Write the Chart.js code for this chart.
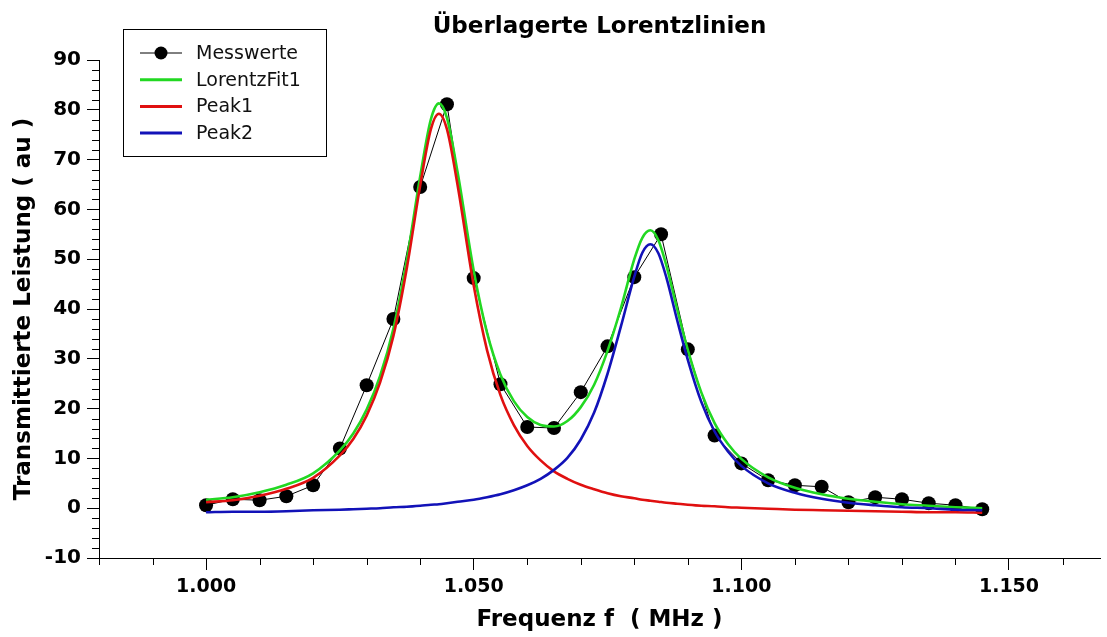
<!DOCTYPE html>
<html lang="de">
<head>
<meta charset="utf-8">
<title>Überlagerte Lorentzlinien</title>
<script src="https://cdn.jsdelivr.net/npm/chart.js@4.4.1/dist/chart.umd.min.js"></script>
<style>
  html, body { margin: 0; padding: 0; background: #fff; }
  #wrap { position: relative; width: 1107px; height: 637px; }
</style>
</head>
<body>
<div id="wrap"><canvas id="chart"></canvas></div>
<script>
// Messpunkte: Frequenz (MHz) und transmittierte Leistung (au)
const messFreq = [1.000, 1.005, 1.010, 1.015, 1.020, 1.025, 1.030, 1.035, 1.040, 1.045,
                  1.050, 1.055, 1.060, 1.065, 1.070, 1.075, 1.080, 1.085, 1.090, 1.095,
                  1.100, 1.105, 1.110, 1.115, 1.120, 1.125, 1.130, 1.135, 1.140, 1.145];
const messWerte = [0.6, 1.8, 1.6, 2.4, 4.6, 12.0, 24.7, 38.0, 64.5, 81.1,
                   46.2, 24.9, 16.3, 16.1, 23.3, 32.5, 46.4, 55.0, 31.9, 14.6,
                   9.0, 5.6, 4.6, 4.3, 1.2, 2.2, 1.8, 1.0, 0.6, -0.2];

// Stuetzstellen der Fitkurven
const fitFreq = [1.000, 1.005, 1.010, 1.015, 1.020, 1.025, 1.0275, 1.030, 1.0325, 1.035,
                 1.0375, 1.040, 1.042, 1.0435, 1.045, 1.047, 1.050, 1.0525, 1.055, 1.0575,
                 1.060, 1.0625, 1.065, 1.0675, 1.070, 1.0725, 1.075, 1.0775, 1.080, 1.0815,
                 1.083, 1.0845, 1.086, 1.088, 1.090, 1.0925, 1.095, 1.0975, 1.100, 1.105,
                 1.110, 1.115, 1.120, 1.125, 1.130, 1.135, 1.140, 1.145];
const lorentzFit = [1.7, 2.2, 3.2, 4.7, 7.0, 11.6, 15.0, 19.8, 26.5, 36.1,
                    49.8, 66.6, 78.1, 81.3, 78.4, 67.4, 47.7, 35.2, 26.8, 21.5,
                    18.3, 16.7, 16.4, 17.5, 20.3, 24.8, 31.6, 40.2, 50.0, 54.3,
                    55.8, 53.8, 48.7, 40.0, 31.8, 23.3, 17.1, 12.9, 9.9, 6.2,
                    4.1, 2.8, 1.9, 1.3, 0.8, 0.5, 0.2, 0.0];
const peak1 = [1.2, 1.6, 2.5, 3.9, 6.1, 10.6, 13.9, 18.6, 25.2, 34.6,
               48.2, 64.8, 76.1, 79.2, 76.1, 64.8, 44.7, 31.7, 22.7, 16.7,
               12.5, 9.6, 7.4, 5.9, 4.7, 3.8, 3.0, 2.4, 2.0, 1.7,
               1.5, 1.3, 1.1, 0.9, 0.7, 0.5, 0.4, 0.2, 0.1, -0.1,
               -0.3, -0.4, -0.5, -0.6, -0.7, -0.8, -0.8, -0.9];
const peak2 = [-0.8, -0.7, -0.7, -0.6, -0.4, -0.3, -0.2, -0.1, 0.0, 0.2,
               0.3, 0.5, 0.7, 0.8, 1.0, 1.3, 1.7, 2.2, 2.8, 3.6,
               4.6, 5.9, 7.7, 10.1, 13.8, 19.2, 27.0, 36.5, 46.5, 51.3,
               53.0, 51.2, 46.3, 37.8, 29.8, 21.4, 15.4, 11.4, 8.5, 5.0,
               3.1, 1.9, 1.1, 0.6, 0.2, 0.0, -0.3, -0.4];

// Achsenteilung
const xMajor = [1.00, 1.05, 1.10, 1.15];
const xMinor = [0.98, 0.99, 1.01, 1.02, 1.03, 1.04, 1.06, 1.07, 1.08, 1.09,
                1.11, 1.12, 1.13, 1.14, 1.16];
const yMajor = [-10, 0, 10, 20, 30, 40, 50, 60, 70, 80, 90];
const yMinor = [-8, -6, -4, -2, 2, 4, 6, 8, 12, 14, 16, 18, 22, 24, 26, 28,
                32, 34, 36, 38, 42, 44, 46, 48, 52, 54, 56, 58, 62, 64, 66, 68,
                72, 74, 76, 78, 82, 84, 86, 88];

const FONT = "'DejaVu Sans', Verdana, sans-serif";
const pts = (xs, ys) => xs.map((x, i) => ({ x: x, y: ys[i] }));

// kurze Zwischenstriche an beiden Achsen
const minorTicks = {
  id: 'minorTicks',
  afterDraw(chart) {
    const { ctx, scales: { x, y } } = chart;
    ctx.save();
    ctx.strokeStyle = '#000';
    ctx.lineWidth = 1;
    ctx.beginPath();
    yMinor.forEach(v => {
      const py = Math.round(y.getPixelForValue(v)) + 0.5;
      ctx.moveTo(y.right - 7, py);
      ctx.lineTo(y.right, py);
    });
    xMinor.forEach(v => {
      const px = Math.round(x.getPixelForValue(v)) + 0.5;
      ctx.moveTo(px, x.top);
      ctx.lineTo(px, x.top + 7);
    });
    ctx.stroke();
    ctx.restore();
  }
};

// Legende im Diagramm oben links, mit Rahmen
const legendBox = {
  id: 'legendBox',
  afterDraw(chart) {
    const ctx = chart.ctx;
    const left = chart.chartArea.left + 24, top = 29, w = 203, h = 127;
    ctx.save();
    ctx.fillStyle = '#fff';
    ctx.fillRect(left, top, w, h);
    ctx.strokeStyle = '#000';
    ctx.lineWidth = 1;
    ctx.strokeRect(left + 0.5, top + 0.5, w, h);
    ctx.font = '19px ' + FONT;
    ctx.textBaseline = 'middle';
    chart.data.datasets.forEach((ds, i) => {
      const cy = top + 24 + i * 26.7;
      ctx.strokeStyle = ds.borderColor;
      ctx.lineWidth = ds.pointRadius > 0 ? 1 : 3;
      ctx.beginPath();
      ctx.moveTo(left + 17, cy);
      ctx.lineTo(left + 59, cy);
      ctx.stroke();
      if (ds.pointRadius > 0) {
        ctx.fillStyle = ds.pointBackgroundColor;
        ctx.beginPath();
        ctx.arc(left + 38, cy, 6.5, 0, Math.PI * 2);
        ctx.fill();
      }
      ctx.fillStyle = '#111';
      ctx.fillText(ds.label, left + 73, cy + 1);
    });
    ctx.restore();
  }
};

new Chart(document.getElementById('chart'), {
  type: 'scatter',
  data: {
    datasets: [
      {
        label: 'Messwerte',
        data: pts(messFreq, messWerte),
        showLine: true,
        borderColor: '#000',
        borderWidth: 1,
        pointRadius: 7,
        pointBackgroundColor: '#000',
        pointBorderColor: '#000',
        pointBorderWidth: 0,
        tension: 0,
        order: 4
      },
      {
        label: 'LorentzFit1',
        data: pts(fitFreq, lorentzFit),
        showLine: true,
        borderColor: '#22d822',
        borderWidth: 2.6,
        pointRadius: 0,
        cubicInterpolationMode: 'monotone',
        order: 3
      },
      {
        label: 'Peak1',
        data: pts(fitFreq, peak1),
        showLine: true,
        borderColor: '#e01010',
        borderWidth: 2.6,
        pointRadius: 0,
        cubicInterpolationMode: 'monotone',
        order: 2
      },
      {
        label: 'Peak2',
        data: pts(fitFreq, peak2),
        showLine: true,
        borderColor: '#1212b8',
        borderWidth: 2.6,
        pointRadius: 0,
        cubicInterpolationMode: 'monotone',
        order: 1
      }
    ]
  },
  options: {
    responsive: true,
    maintainAspectRatio: false,
    animation: false,
    layout: { padding: { left: 0, right: 0, top: 0, bottom: 0 } },
    plugins: {
      legend: { display: false },
      tooltip: { enabled: false },
      title: {
        display: true,
        text: 'Überlagerte Lorentzlinien',
        color: '#000',
        fullSize: false,
        font: { family: FONT, size: 23, weight: 'bold' },
        padding: { top: 13, bottom: 19.4 }
      }
    },
    scales: {
      x: {
        type: 'linear',
        min: 0.98,
        max: 1.167,
        afterBuildTicks: s => { s.ticks = xMajor.map(v => ({ value: v })); },
        afterFit: s => { s.height = 79; },
        border: { display: true, color: '#000', width: 1 },
        grid: { display: true, drawOnChartArea: false, drawTicks: true, tickLength: 12, tickColor: '#000', tickWidth: 1 },
        ticks: {
          autoSkip: false, maxRotation: 0, minRotation: 0,
          color: '#000', padding: 6,
          font: { family: FONT, size: 19, weight: 'bold' },
          callback: v => v.toFixed(3)
        },
        title: {
          display: true,
          text: 'Frequenz f  ( MHz )',
          color: '#000',
          font: { family: FONT, size: 23, weight: 'bold' },
          padding: { top: 0, bottom: 3 }
        }
      },
      y: {
        type: 'linear',
        min: -10,
        max: 90,
        afterBuildTicks: s => { s.ticks = yMajor.map(v => ({ value: v })); },
        afterFit: s => { s.width = 99; },
        border: { display: true, color: '#000', width: 1 },
        grid: { display: true, drawOnChartArea: false, drawTicks: true, tickLength: 12, tickColor: '#000', tickWidth: 1 },
        ticks: {
          autoSkip: false, color: '#000', padding: 6,
          font: { family: FONT, size: 20, weight: 'bold' }
        },
        title: {
          display: true,
          text: 'Transmittierte Leistung ( au )',
          color: '#000',
          font: { family: FONT, size: 23, weight: 'bold' },
          padding: { top: 10, bottom: 0 }
        }
      }
    }
  },
  plugins: [minorTicks, legendBox]
});
</script>
</body>
</html>
